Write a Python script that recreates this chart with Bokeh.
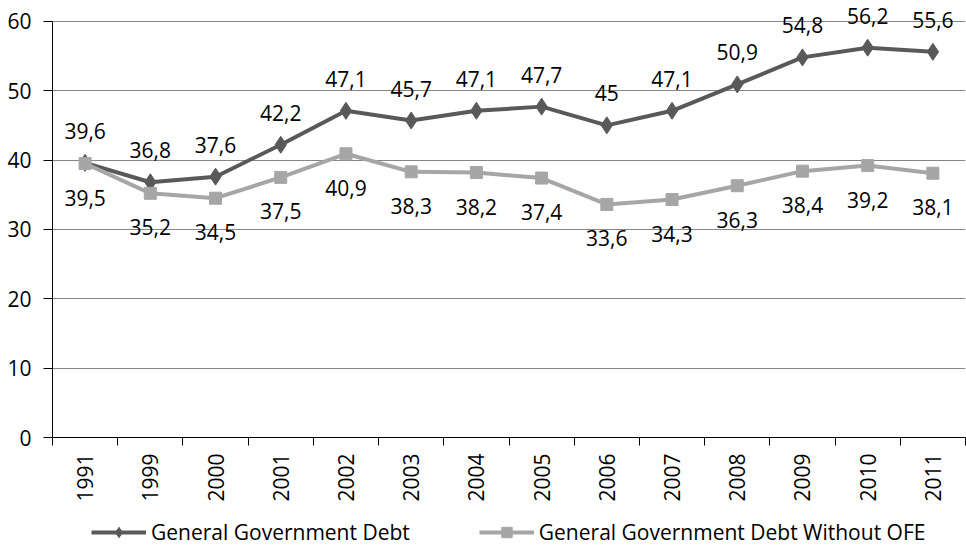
from bokeh.plotting import figure
from bokeh.layouts import column
from bokeh.models import ColumnDataSource, FixedTicker, Legend, LegendItem, Range1d
from bokeh.core.properties import value
from bokeh.embed import file_html
from bokeh.resources import INLINE

years = ["1991", "1999", "2000", "2001", "2002", "2003", "2004",
         "2005", "2006", "2007", "2008", "2009", "2010", "2011"]
debt = [39.6, 36.8, 37.6, 42.2, 47.1, 45.7, 47.1, 47.7, 45, 47.1, 50.9, 54.8, 56.2, 55.6]
debt_wo_ofe = [39.5, 35.2, 34.5, 37.5, 40.9, 38.3, 38.2, 37.4, 33.6, 34.3, 36.3, 38.4, 39.2, 38.1]
y_ticks = [0, 10, 20, 30, 40, 50, 60]
series_names = ["General Government Debt", "General Government Debt Without OFE"]

FONT = "Open Sans"
DARK = "#595959"
LIGHT = "#a6a6a6"

n = len(years)
xs = [i + 0.5 for i in range(n)]


def fmt(v):
    return f"{v:g}".replace(".", ",")


src1 = ColumnDataSource(dict(x=xs, y=debt, lab=[fmt(v) for v in debt]))
src2 = ColumnDataSource(dict(x=xs, y=debt_wo_ofe, lab=[fmt(v) for v in debt_wo_ofe]))

# headroom above the top tick so that data labels over 60 stay visible
p = figure(width=966, height=507, output_backend="svg", toolbar_location=None,
           x_range=Range1d(0, n), y_range=Range1d(y_ticks[0], 63),
           min_border_left=52, min_border_right=1, min_border_top=0, min_border_bottom=70)
p.outline_line_color = None
p.background_fill_color = "white"
p.border_fill_color = "white"

# axes
p.xaxis.ticker = FixedTicker(ticks=xs, minor_ticks=list(range(n + 1)))
p.xaxis.major_label_overrides = {x: y for x, y in zip(xs, years)}
p.xaxis.major_label_orientation = 1.5708
p.xaxis.major_tick_out = 0
p.xaxis.major_tick_in = 0
p.xaxis.minor_tick_out = 8
p.xaxis.minor_tick_in = 0
p.xaxis.minor_tick_line_color = "black"
p.xaxis.minor_tick_line_width = 1
p.xaxis.axis_line_color = "black"
p.xaxis.major_label_standoff = 8
p.xaxis.major_label_text_font = FONT
p.xaxis.major_label_text_font_size = "21px"
p.xaxis.major_label_text_color = "black"

p.yaxis.ticker = FixedTicker(ticks=y_ticks)
p.yaxis.bounds = (y_ticks[0], y_ticks[-1])
p.yaxis.minor_tick_line_color = None
p.yaxis.major_tick_out = 9
p.yaxis.major_tick_in = 0
p.yaxis.major_tick_line_color = "black"
p.yaxis.axis_line_color = "black"
p.yaxis.major_label_standoff = 12
p.yaxis.major_label_text_font = FONT
p.yaxis.major_label_text_font_size = "21px"
p.yaxis.major_label_text_color = "black"

p.xgrid.grid_line_color = None
p.ygrid.ticker = FixedTicker(ticks=y_ticks)
p.ygrid.grid_line_color = "#868686"
p.ygrid.grid_line_width = 1

# series
l1 = p.line("x", "y", source=src1, line_color=DARK, line_width=4)
m1 = p.scatter("x", "y", source=src1, marker="diamond", size=17, fill_color=DARK, line_color=DARK)
l2 = p.line("x", "y", source=src2, line_color=LIGHT, line_width=4)
m2 = p.scatter("x", "y", source=src2, marker="square", size=12, fill_color=LIGHT, line_color=LIGHT)

p.text("x", "y", text="lab", source=src1, y_offset=-32, text_align="center",
       text_baseline="middle", text_font=value(FONT), text_font_size="21px", text_color="black")
p.text("x", "y", text="lab", source=src2, y_offset=34, text_align="center",
       text_baseline="middle", text_font=value(FONT), text_font_size="21px", text_color="black")

# legend strip below the chart (same series drawn out of view, only the legend shows)
lg = figure(width=966, height=40, output_backend="svg", toolbar_location=None,
            x_axis_type=None, y_axis_type=None, x_range=Range1d(0, n), y_range=Range1d(-2, -1),
            min_border_left=0, min_border_right=0, min_border_top=0, min_border_bottom=0)
lg.outline_line_color = None
lg.xgrid.grid_line_color = None
lg.ygrid.grid_line_color = None
r1 = lg.line("x", "y", source=src1, line_color=DARK, line_width=4)
s1 = lg.scatter("x", "y", source=src1, marker="diamond", size=17, fill_color=DARK, line_color=DARK)
r2 = lg.line("x", "y", source=src2, line_color=LIGHT, line_width=4)
s2 = lg.scatter("x", "y", source=src2, marker="square", size=12, fill_color=LIGHT, line_color=LIGHT)

legend = Legend(items=[LegendItem(label=series_names[0], renderers=[r1, s1]),
                       LegendItem(label=series_names[1], renderers=[r2, s2])],
                orientation="horizontal", location=(39, 1))
legend.glyph_width = 55
legend.glyph_height = 26
legend.label_standoff = 5
legend.spacing = 69
legend.padding = 0
legend.margin = 0
legend.border_line_color = None
legend.background_fill_alpha = 0
legend.label_text_font = FONT
legend.label_text_font_size = "21px"
legend.label_text_color = "black"
lg.add_layout(legend)

layout = column(p, lg, spacing=0)
open("out.html", "w").write(file_html(layout, INLINE))
